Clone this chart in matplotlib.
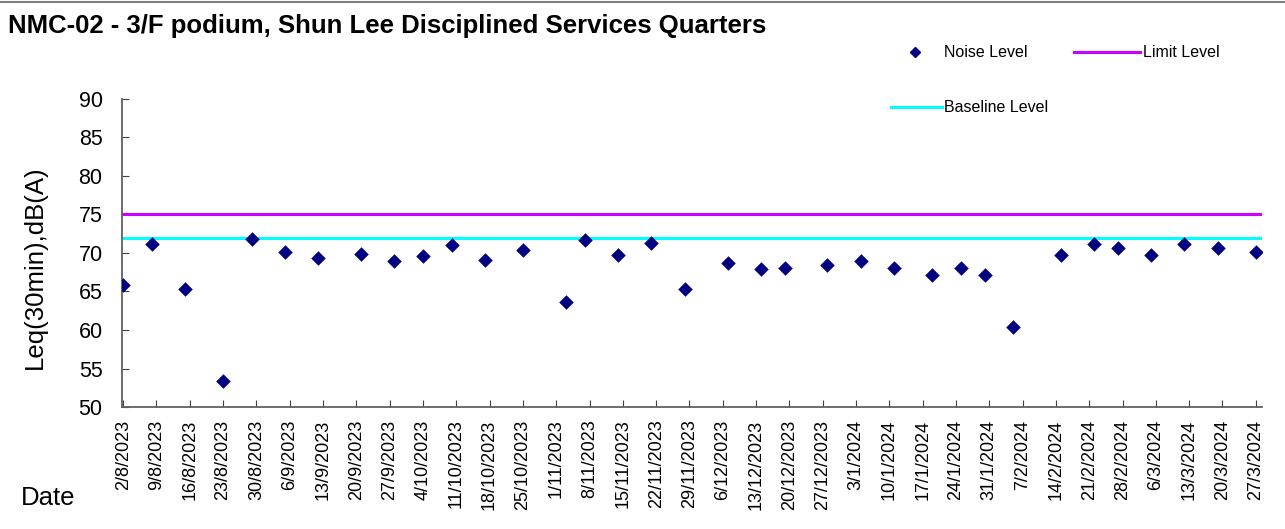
import datetime as dt

import matplotlib
matplotlib.use("Agg")
import matplotlib.pyplot as plt
from matplotlib.lines import Line2D

plt.rcParams["font.family"] = ["Liberation Sans", "DejaVu Sans"]

# ---- data ----
dates = [
    "2/8/2023", "8/8/2023", "15/8/2023", "23/8/2023", "29/8/2023", "5/9/2023",
    "12/9/2023", "21/9/2023", "28/9/2023", "4/10/2023", "10/10/2023", "17/10/2023",
    "25/10/2023", "3/11/2023", "7/11/2023", "14/11/2023", "21/11/2023", "28/11/2023",
    "7/12/2023", "14/12/2023", "19/12/2023", "28/12/2023", "4/1/2024", "11/1/2024",
    "19/1/2024", "25/1/2024", "30/1/2024", "5/2/2024", "15/2/2024", "22/2/2024",
    "27/2/2024", "5/3/2024", "12/3/2024", "19/3/2024", "27/3/2024",
]
noise = [
    65.9, 71.2, 65.3, 53.4, 71.8, 70.1,
    69.3, 69.9, 68.9, 69.6, 71.1, 69.1,
    70.4, 63.6, 71.7, 69.8, 71.3, 65.3,
    68.7, 67.9, 68.1, 68.4, 68.9, 68.1,
    67.1, 68.1, 67.1, 60.4, 69.8, 71.2,
    70.7, 69.8, 71.2, 70.7, 70.1,
]
limit_level = 75
baseline_level = 72
tick_start = "2/8/2023"
tick_end = "27/3/2024"


def parse(s):
    return dt.datetime.strptime(s, "%d/%m/%Y")


x = [parse(d) for d in dates]
t0, t1 = parse(tick_start), parse(tick_end)
ticks = []
t = t0
while t <= t1:
    ticks.append(t)
    t += dt.timedelta(days=7)

fig = plt.figure(figsize=(12.85, 5.29), dpi=100)
ax = fig.add_axes([0.0949, 0.2306, 0.8872, 0.5823])

ax.axhline(limit_level, color="#CC00FF", lw=2.2, zorder=2)
ax.axhline(baseline_level, color="#00FFFF", lw=2.2, zorder=2)
ax.scatter(x, noise, marker="D", s=55, color="#000080", zorder=3,
           linewidths=0)

ax.set_xlim(t0 - dt.timedelta(hours=6), t1 + dt.timedelta(days=1.3))
ax.set_ylim(50, 90)
ax.set_yticks(range(50, 91, 5))
ax.set_xticks(ticks)
ax.set_xticklabels([f"{d.day}/{d.month}/{d.year}" for d in ticks],
                   rotation=90, fontsize=13)
ax.tick_params(axis="y", labelsize=15.5, direction="in", length=5,
               color="#404040", pad=14)
ax.tick_params(axis="x", direction="in", length=5, color="#404040", pad=9)
for s in ("top", "right"):
    ax.spines[s].set_visible(False)
for s in ("left", "bottom"):
    ax.spines[s].set_color("#606060")
    ax.spines[s].set_linewidth(1.3)

fig.text(0.027, 0.494, "Leq(30min),dB(A)", rotation=90, fontsize=18.5,
         ha="center", va="center")
fig.text(0.016, 0.058, "Date", fontsize=18.5, ha="left", va="center")
fig.text(0.0062, 0.951, "NMC-02 - 3/F podium, Shun Lee Disciplined Services Quarters",
         fontsize=18.5, fontweight="bold", ha="left", va="center")

# top border of the chart area
fig.add_artist(Line2D([0, 1], [0.997, 0.997], color="#808080", lw=1.5,
                      transform=fig.transFigure))

# legend, placed as in the reference
fig.add_artist(Line2D([0.712], [0.9017], marker="D", color="#000080",
                      markersize=5, lw=0, transform=fig.transFigure))
fig.text(0.735, 0.9017, "Noise Level", fontsize=11.5, va="center")
fig.add_artist(Line2D([0.836, 0.887], [0.9017, 0.9017], color="#CC00FF",
                      lw=2.2, transform=fig.transFigure))
fig.text(0.8895, 0.9017, "Limit Level", fontsize=11.5, va="center")
fig.add_artist(Line2D([0.693, 0.733], [0.7977, 0.7977], color="#00FFFF",
                      lw=2.2, transform=fig.transFigure))
fig.text(0.735, 0.7977, "Baseline Level", fontsize=11.5, va="center")

fig.savefig("out.png", dpi=100)
